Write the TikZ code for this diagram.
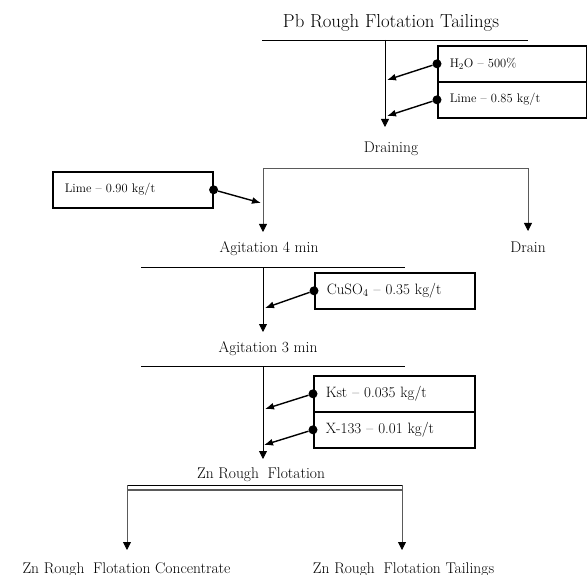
\documentclass[tikz,border=0pt]{standalone}
\usepackage{fontspec}
\usepackage{tikz}
\usetikzlibrary{arrows.meta,positioning,calc}
\definecolor{flGray}{HTML}{5A5A5A}
\definecolor{flText}{HTML}{000000}

\begin{document}
\begin{tikzpicture}[
  x=1pt, y=-1pt,
  stage/.style = {anchor=base, inner sep=0pt, text=flText,
                  font=\fontsize{15.5}{18}\selectfont},
  ttl/.style   = {stage, font=\fontsize{18.8}{22}\selectfont},
  dose/.style  = {draw, line width=1.6pt, anchor=north west, align=left,
                  minimum height=36pt, inner xsep=12pt, inner ysep=0pt,
                  text=flText, font=\fontsize{15}{18}\selectfont},
  sdose/.style = {dose, font=\fontsize{12.5}{15}\selectfont},
  dot/.style   = {circle, fill=black, inner sep=0pt, minimum size=9pt},
  flow/.style  = {line width=0.8pt},
  arr/.style   = {flow, -{Triangle[length=8pt,width=8pt,color=black]}},
  brch/.style  = {arr, draw=flGray},
  feed/.style  = {-{Latex[length=9pt,width=7pt]}, line width=1.4pt},
]
\useasboundingbox (0,0) rectangle (587,575);

%── Feed: Pb rough flotation tailings ────────────────────────────────────────
\node[ttl] (pbt) at (391,27.5) {Pb Rough Flotation Tailings};
\coordinate (pbL)   at (262,40);
\coordinate (pbR)   at (528,40);
\coordinate (pbS)   at (385,40);
\coordinate (drnIn) at (385,127);
\draw[flow](pbL) -- (pbR);
\draw[arr](pbS) -- (drnIn);

\node[sdose, text width=125pt] (h2o)  at (437,45) {H\textsubscript{2}O -- 500\%};
\node[sdose, text width=125pt] (lm85) at (437,81) {Lime -- 0.85 kg/t};
\node[dot] (dh2o) at (h2o.west)  {};
\node[dot] (dl85) at (lm85.west) {};
\coordinate (th2o) at (387,80);
\coordinate (tl85) at (387,116);
\draw[feed](dh2o) -- (th2o);
\draw[feed](dl85) -- (tl85);

%── Draining: split to agitation and drain ───────────────────────────────────
\node[stage] (drn) at (391,153) {Draining};
\coordinate (brL)     at (263,168);
\coordinate (brR)     at (528,168);
\coordinate (ag4In)   at (263,232);
\coordinate (drainIn) at (528,231);
\draw[brch](brL) -- (ag4In);
\draw[brch](brL) -- (brR) -- (drainIn);

\node[sdose, text width=136pt] (lm90) at (52,171) {Lime -- 0.90 kg/t};
\node[dot] (dl90) at (lm90.east) {};
\coordinate (tl90) at (261,203);
\draw[feed](dl90) -- (tl90);

\node[stage] (ag4)   at (269,253) {Agitation 4 min};
\node[stage] (drain) at (528,253) {Drain};

%── Agitation 4 min -> Agitation 3 min ───────────────────────────────────────
\coordinate (u4L)   at (141,267);
\coordinate (u4R)   at (405,267);
\coordinate (u4S)   at (263,267);
\coordinate (ag3In) at (263,332);
\draw[flow](u4L) -- (u4R);
\draw[arr](u4S) -- (ag3In);

\node[dose, text width=136pt] (cuso) at (314,272) {CuSO\textsubscript{4} -- 0.35 kg/t};
\node[dot] (dcu) at (cuso.west) {};
\coordinate (tcu) at (265,308);
\draw[feed](dcu) -- (tcu);

\node[stage] (ag3) at (268,352) {Agitation 3 min};

%── Agitation 3 min -> Zn rough flotation ────────────────────────────────────
\coordinate (u3L)  at (141,366);
\coordinate (u3R)  at (405,366);
\coordinate (u3S)  at (263,366);
\coordinate (znIn) at (263,459);
\draw[flow](u3L) -- (u3R);
\draw[arr](u3S) -- (znIn);

\node[dose, text width=137pt] (kst)  at (313,375) {Kst -- 0.035 kg/t};
\node[dose, text width=137pt] (x133) at (313,411) {X-133 -- 0.01 kg/t};
\node[dot] (dkst) at (kst.west)  {};
\node[dot] (dx13) at (x133.west) {};
\coordinate (tkst) at (265,409);
\coordinate (tx13) at (264,445);
\draw[feed](dkst) -- (tkst);
\draw[feed](dx13) -- (tx13);

\node[stage] (znr) at (261,478) {Zn Rough\hspace{4pt} Flotation};

%── Zn rough flotation products ──────────────────────────────────────────────
\coordinate (zbL)   at (127,485);
\coordinate (zbR)   at (402,485);
\coordinate (zcIn)  at (127,550);
\coordinate (ztIn)  at (402,550);
\draw[flow](zbL) -- (zbR);
\draw[flow, draw=flGray, line width=1.6pt]
    ($(zbL)+(0,5)$) -- ($(zbR)+(0,5)$);
\draw[brch](zbL) -- (zcIn);
\draw[brch](zbR) -- (ztIn);

\node[stage] (znc) at (126.5,573) {Zn Rough\hspace{4pt} Flotation Concentrate};
\node[stage] (znt) at (403.5,573) {Zn Rough\hspace{4pt} Flotation Tailings};

\end{tikzpicture}
\end{document}
